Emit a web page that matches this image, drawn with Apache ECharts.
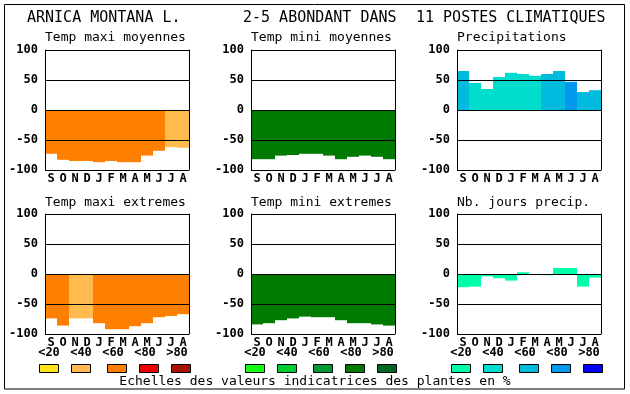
<!DOCTYPE html>
<html><head><meta charset="utf-8">
<script src="https://cdn.jsdelivr.net/npm/echarts@6/dist/echarts.min.js"></script>
<style>html,body{margin:0;padding:0;background:#fff}#c{width:630px;height:394px}</style>
</head><body><div id="c"></div>
<script>
var months = ['S','O','N','D','J','F','M','A','M','J','J','A'];
var yTicks = [-100,-50,0,50,100];
var scaleLabels = ['<20','<40','<60','<80','>80'];
var orangeScale = ['#FFE415','#FFBB4F','#FF8000','#EE0000','#AA1100'];
var greenScale = ['#11FF11','#00CC33','#009933','#007A00','#006622'];
var blueScale = ['#00FFAA','#00DDCC','#00BBDD','#0099EE','#0000FF'];

var tmaxMoy = [-73,-83,-85,-85,-87,-85,-87,-87,-76,-68,-62,-63];
var tmaxMoyCls = [2,2,2,2,2,2,2,2,2,2,1,1];
var tminMoy = [-82,-82,-76,-75,-73,-73,-76,-82,-78,-76,-78,-82];
var tminMoyCls = [3,3,3,3,3,3,3,3,3,3,3,3];
var precip = [65,45,35,55,62,60,57,60,65,47,30,33];
var precipCls = [2,1,1,1,1,1,1,2,2,3,2,2];
var tmaxExt = [-74,-86,-74,-74,-82,-92,-92,-87,-82,-72,-70,-67];
var tmaxExtCls = [2,2,1,1,2,2,2,2,2,2,2,2];
var tminExt = [-84,-82,-77,-74,-71,-72,-72,-77,-82,-82,-84,-86];
var tminExtCls = [3,3,3,3,3,3,3,3,3,3,3,3];
var nbJours = [-22,-21,-4,-7,-11,3,0,-2,10,10,-21,-6];
var nbJoursCls = [0,0,0,0,0,0,0,0,0,0,0,0];

var panelTitles = ['Temp maxi moyennes','Temp mini moyennes','Precipitations','Temp maxi extremes','Temp mini extremes','Nb. jours precip.'];
var titleLeft = 'ARNICA MONTANA L.';
var titleMid = '2-5 ABONDANT DANS';
var titleRight = '11 POSTES CLIMATIQUES';
var footer = 'Echelles des valeurs indicatrices des plantes en %';

var panels = [
  {v:tmaxMoy,c:tmaxMoyCls,p:orangeScale},
  {v:tminMoy,c:tminMoyCls,p:greenScale},
  {v:precip,c:precipCls,p:blueScale},
  {v:tmaxExt,c:tmaxExtCls,p:orangeScale},
  {v:tminExt,c:tminExtCls,p:greenScale},
  {v:nbJours,c:nbJoursCls,p:blueScale}
];
var lefts = [45,251,457];
var tops = [50,214];
var MONO = '"DejaVu Sans Mono", "Liberation Mono", monospace';

var grids=[],xAxes=[],yAxes=[],series=[],graphics=[];
panels.forEach(function(pn,i){
  var col=i%3,row=Math.floor(i/3);
  grids.push({left:lefts[col],top:tops[row],width:144,height:120,containLabel:false});
  xAxes.push({type:'category',gridIndex:i,data:months,axisLine:{show:false},axisTick:{show:false},
    axisLabel:{interval:0,margin:3,color:'#000',fontFamily:MONO,fontWeight:'bold',fontSize:12}});
  yAxes.push({type:'value',gridIndex:i,min:-100,max:100,interval:50,z:10,
    axisLine:{show:true,lineStyle:{color:'#000',width:1}},axisTick:{show:false},
    splitLine:{show:true,lineStyle:{color:'#000',width:1}},
    axisLabel:{margin:7,color:'#000',fontFamily:MONO,fontWeight:'bold',fontSize:12}});
  series.push({type:'bar',xAxisIndex:i,yAxisIndex:i,barCategoryGap:'0%',barWidth:'100%',
    data:pn.v.map(function(v,k){return {value:v,itemStyle:{color:pn.p[pn.c[k]]}};})});
  graphics.push({type:'text',x:lefts[col],y:row===0?38:202.5,
    style:{text:panelTitles[i],font:'13px '+MONO,fill:'#000',textAlign:'left',textVerticalAlign:'middle'}});
});
panels.forEach(function(pn,i){
  yAxes.push({type:'value',gridIndex:i,min:-100,max:100,interval:50,position:'right',z:10,
    axisLine:{show:true,lineStyle:{color:'#000',width:1}},axisTick:{show:false},
    splitLine:{show:false},axisLabel:{show:false}});
});

[orangeScale,greenScale,blueScale].forEach(function(sc,col){
  var gl=lefts[col];
  var labOff=[4,36,68,100,132], boxOff=[-6,26,62,94,126];
  sc.forEach(function(color,k){
    graphics.push({type:'text',x:gl+labOff[k],y:353,
      style:{text:scaleLabels[k],font:'bold 12px '+MONO,fill:'#000',textAlign:'center',textVerticalAlign:'middle'}});
    graphics.push({type:'rect',shape:{x:gl+boxOff[k]+0.5,y:364.5,width:19,height:8},
      style:{fill:color,stroke:'#000',lineWidth:1}});
  });
});

graphics.push({type:'text',x:27,y:18,style:{text:titleLeft,font:'15px '+MONO,fill:'#000',textVerticalAlign:'middle'}});
graphics.push({type:'text',x:243,y:18,style:{text:titleMid,font:'15px '+MONO,fill:'#000',textVerticalAlign:'middle'}});
graphics.push({type:'text',x:416,y:18,style:{text:titleRight,font:'15px '+MONO,fill:'#000',textVerticalAlign:'middle'}});
graphics.push({type:'text',x:315,y:382,style:{text:footer,font:'13px '+MONO,fill:'#000',textAlign:'center',textVerticalAlign:'middle'}});
graphics.push({type:'rect',shape:{x:4.5,y:4.5,width:620,height:384.5},style:{fill:'none',stroke:'#000',lineWidth:1},z:100});

var chart=echarts.init(document.getElementById('c'),null,{renderer:'canvas'});
chart.setOption({backgroundColor:'#fff',animation:false,grid:grids,xAxis:xAxes,yAxis:yAxes,series:series,graphic:graphics});
</script></body></html>
